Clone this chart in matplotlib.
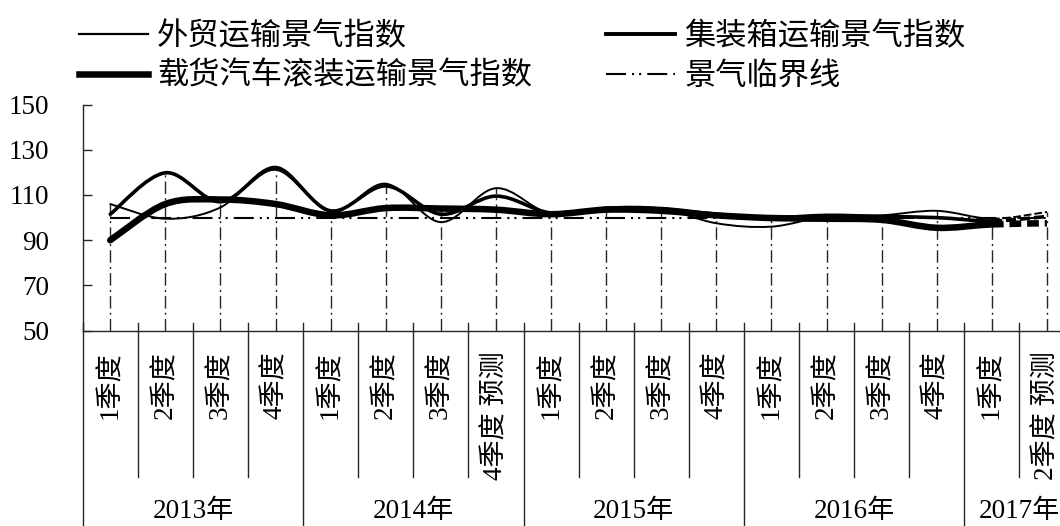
import numpy as np
import matplotlib.pyplot as plt
from matplotlib.path import Path
from matplotlib.patches import PathPatch
from matplotlib.lines import Line2D

# ---- data ----
quarters = ['1季度', '2季度', '3季度', '4季度',
            '1季度', '2季度', '3季度', '4季度 预测',
            '1季度', '2季度', '3季度', '4季度',
            '1季度', '2季度', '3季度', '4季度',
            '1季度', '2季度 预测']
years = ['2013年', '2014年', '2015年', '2016年', '2017年']
year_sizes = [4, 4, 4, 4, 2]

waimao = [106, 99.5, 104.5, 122.5, 102.5, 115, 98, 113, 101.5,
          104.5, 104, 97.5, 96, 100.5, 101, 103, 99.5, 102.5]
jizhuangxiang = [101.5, 119.8, 107, 121.5, 103, 114, 101.5, 109.5, 102,
                 104, 104, 101.5, 100, 101, 100.5, 100, 98.5, 100.5]
zaihuo = [90, 106, 108, 106, 101, 104.2, 104, 103.5, 101.5,
          103.5, 103, 101, 99.8, 99.5, 99, 95.5, 97, 97.5]
linjie = [100, 100, 100, 100, 100, 100, 100, 100, 100,
          100, 100, 100, 100, 100, 100, 100, 100, 100]

names = ['外贸运输景气指数', '集装箱运输景气指数', '载货汽车滚装运输景气指数', '景气临界线']

num_font = ['Liberation Serif', 'Noto Sans CJK SC']
ink = '#262626'
crit_ls = (0, (9.6, 2.9, 1, 2.4, 1, 2.9))


def smooth_path(y, i0, i1):
    # excel style smoothed line (catmull-rom as bezier) from point i0 to i1
    n = len(y)
    verts = [(i0, y[i0])]
    codes = [Path.MOVETO]
    for i in range(i0, i1):
        a = max(i - 1, 0)
        d = min(i + 2, n - 1)
        c1 = (i + (i + 1 - a) / 6, y[i] + (y[i + 1] - y[a]) / 6)
        c2 = (i + 1 - (d - i) / 6, y[i + 1] - (y[d] - y[i]) / 6)
        verts += [c1, c2, (i + 1, y[i + 1])]
        codes += [Path.CURVE4] * 3
    return Path(verts, codes)


fig = plt.figure(figsize=(10.6, 5.26), dpi=100)
ax = fig.add_axes([82.7 / 1060, (526 - 330.7) / 526, 991.8 / 1060, 226.2 / 526])

x = np.arange(len(quarters))
n = len(x)

# drop lines from the highest value down to the axis
top = np.max([waimao, jizhuangxiang, zaihuo, linjie], axis=0)
ax.vlines(x, 50, top, colors=ink, lw=1.0, linestyles=[(0, (9, 3, 1.5, 3))], zorder=1)

# critical line
ax.plot(x, linjie, color='black', lw=1.5, ls=crit_ls, zorder=2)

series = [(waimao, 1.4, (4, 1.5)), (jizhuangxiang, 2.6, (2.8, 1.1)), (zaihuo, 4.7, (1.8, 0.9))]
for vals, lw, dash in series:
    ax.add_patch(PathPatch(smooth_path(vals, 0, n - 2), fill=False, ec='black', lw=lw,
                           capstyle='round', joinstyle='round', zorder=3))
    # forecast segment dashed
    ax.add_patch(PathPatch(smooth_path(vals, n - 2, n - 1), fill=False, ec='black', lw=lw,
                           ls=(0, dash), capstyle='butt', zorder=3))

ax.set_xlim(-0.5, n - 0.5)
ax.set_ylim(50, 150)
ax.set_yticks(range(50, 151, 20))
ax.tick_params(axis='y', direction='in', length=6.5, width=1, color=ink, pad=24)
for lab in ax.get_yticklabels():
    lab.set_family(num_font)
    lab.set_fontsize(19.5)

ax.set_xticks(x)
ax.set_xticklabels(quarters, rotation=90, family=num_font, fontsize=19.5, fontweight='light')
ax.tick_params(axis='x', length=0, pad=15)

for s in ['top', 'right']:
    ax.spines[s].set_visible(False)
for s in ['left', 'bottom']:
    ax.spines[s].set_color(ink)
    ax.spines[s].set_linewidth(1)

# multi level category separators
year_edges = np.cumsum([0] + year_sizes) - 0.5
trans = ax.get_xaxis_transform()
for b in np.arange(-0.5, n, 1):
    low = -0.9 if b in year_edges else -0.648
    ax.plot([b, b], [0.035, low], transform=trans, color=ink, lw=1, clip_on=False)

for i, yr in enumerate(years):
    cx = year_edges[i] + year_sizes[i] / 2
    ax.text(cx, -0.80, yr, transform=trans, ha='center', va='center',
            family=num_font, fontsize=19.5, fontweight='light', clip_on=False)

handles = [Line2D([], [], color='black', lw=1.6),
           Line2D([], [], color='black', lw=4.7),
           Line2D([], [], color='black', lw=2.8),
           Line2D([], [], color='black', lw=1.5, ls=crit_ls)]
labels = [names[0], names[2], names[1], names[3]]
fig.legend(handles, labels, ncol=2, loc='upper left', bbox_to_anchor=(0.0745, 0.962),
           frameon=False, borderpad=0, borderaxespad=0, handlelength=2.2,
           handletextpad=0.3, columnspacing=2.37, labelspacing=0.24,
           prop={'family': ['Noto Sans CJK SC'], 'size': 22.5, 'weight': 'light'})

fig.savefig('out.png', dpi=100)
